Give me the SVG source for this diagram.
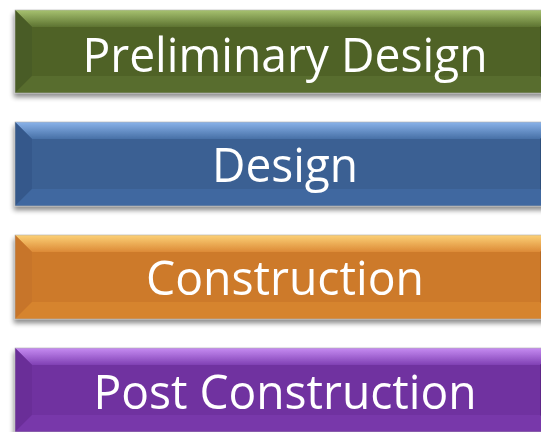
<svg xmlns="http://www.w3.org/2000/svg" width="541" height="432" viewBox="0 0 541 432">
  <defs>
    <filter id="sh" x="-5%" y="-20%" width="110%" height="150%">
      <feGaussianBlur in="SourceAlpha" stdDeviation="2.5"/>
      <feOffset dx="-1" dy="4" result="b"/>
      <feComponentTransfer><feFuncA type="linear" slope="0.45"/></feComponentTransfer>
      <feMerge><feMergeNode/><feMergeNode in="SourceGraphic"/></feMerge>
    </filter>
    <linearGradient id="gTop" x1="0" y1="0" x2="0" y2="1">
      <stop offset="0" stop-color="#a7c270"/><stop offset="1" stop-color="#5d7331"/>
    </linearGradient>
    <linearGradient id="bTop" x1="0" y1="0" x2="0" y2="1">
      <stop offset="0" stop-color="#8ab3ea"/><stop offset="1" stop-color="#4770a6"/>
    </linearGradient>
    <linearGradient id="oTop" x1="0" y1="0" x2="0" y2="1">
      <stop offset="0" stop-color="#fcd177"/><stop offset="1" stop-color="#dc8a36"/>
    </linearGradient>
    <linearGradient id="pTop" x1="0" y1="0" x2="0" y2="1">
      <stop offset="0" stop-color="#c68cf2"/><stop offset="1" stop-color="#8040b4"/>
    </linearGradient>
  </defs>
  <style>
    .lbl { font-family: "Open Sans", "Noto Sans", "Liberation Sans", sans-serif; font-size: 48px; fill: #ffffff; text-anchor: middle; }
    .edge { stroke: #b0b0b0; stroke-width: 0.6; fill: none; }
  </style>

  <g id="preliminary-design" filter="url(#sh)">
    <rect x="15" y="10" width="542" height="83" fill="#4f6228"/>
    <polygon points="15,10 557,10 540,27 32,27" fill="url(#gTop)"/>
    <polygon points="15,10 32,27 32,76 15,93" fill="#4a5c25"/>
    <polygon points="15,93 32,76 540,76 557,93" fill="#586d2d"/>
    <polygon points="557,10 540,27 540,76 557,93" fill="#415220"/>
    <rect x="15" y="10" width="542" height="83" class="edge"/>
    <text x="285" y="72" class="lbl" textLength="405" lengthAdjust="spacingAndGlyphs">Preliminary Design</text>
  </g>

  <g id="design" filter="url(#sh)">
    <rect x="15" y="122" width="542" height="84" fill="#3b6193"/>
    <polygon points="15,122 557,122 540,139 32,139" fill="url(#bTop)"/>
    <polygon points="15,122 32,139 32,189 15,206" fill="#35598b"/>
    <polygon points="15,206 32,189 540,189 557,206" fill="#4068a0"/>
    <polygon points="557,122 540,139 540,189 557,206" fill="#2f4f7c"/>
    <rect x="15" y="122" width="542" height="84" class="edge"/>
    <text x="285" y="182" class="lbl" textLength="146" lengthAdjust="spacingAndGlyphs">Design</text>
  </g>

  <g id="construction" filter="url(#sh)">
    <rect x="15" y="235" width="542" height="84" fill="#cd7a2b"/>
    <polygon points="15,235 557,235 540,252 32,252" fill="url(#oTop)"/>
    <polygon points="15,235 32,252 32,302 15,319" fill="#c7752a"/>
    <polygon points="15,319 32,302 540,302 557,319" fill="#d6842f"/>
    <polygon points="557,235 540,252 540,302 557,319" fill="#b86b22"/>
    <rect x="15" y="235" width="542" height="84" class="edge"/>
    <text x="285" y="295" class="lbl" textLength="278" lengthAdjust="spacingAndGlyphs">Construction</text>
  </g>

  <g id="post-construction" filter="url(#sh)">
    <rect x="15" y="348" width="542" height="84" fill="#7031a0"/>
    <polygon points="15,348 557,348 540,365 32,365" fill="url(#pTop)"/>
    <polygon points="15,348 32,365 32,415 15,432" fill="#6a2d98"/>
    <polygon points="15,432 32,415 540,415 557,432" fill="#7838aa"/>
    <polygon points="557,348 540,365 540,415 557,432" fill="#5e2789"/>
    <rect x="15" y="348" width="542" height="84" class="edge"/>
    <text x="285" y="409" class="lbl" textLength="383" lengthAdjust="spacingAndGlyphs">Post Construction</text>
  </g>

  <g id="connectors"/>
</svg>
